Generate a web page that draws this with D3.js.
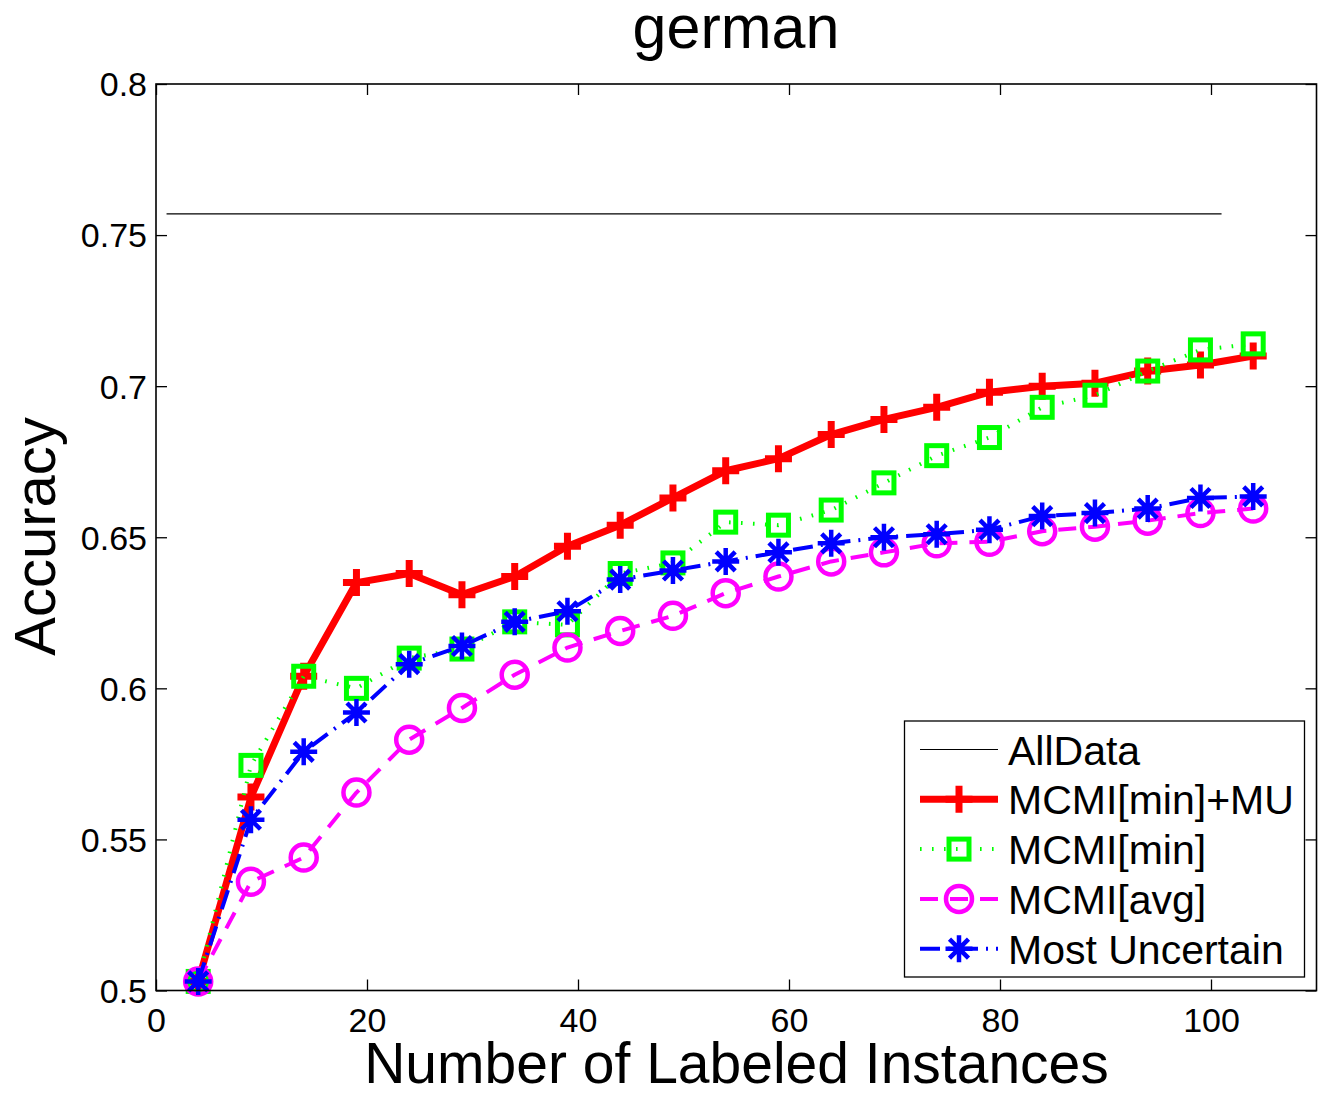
<!DOCTYPE html>
<html>
<head>
<meta charset="utf-8">
<script src="https://cdn.jsdelivr.net/npm/d3@7"></script>
<style>
  html, body { margin: 0; padding: 0; background: #fff; }
  svg { display: block; }
  text { font-family: "Liberation Sans", Arial, Helvetica, sans-serif; fill: #000; }
</style>
</head>
<body>
<svg id="chart" width="1330" height="1097"></svg>
<script>
// Number of labeled instances at each evaluation step
const labeledCounts = [4, 9, 14, 19, 24, 29, 34, 39, 44, 49, 54, 59, 64, 69, 74, 79, 84, 89, 94, 99, 104];

// Accuracy of each selection strategy
const mcmiMinMu = [0.503, 0.564, 0.604, 0.635, 0.638, 0.631, 0.637, 0.647, 0.654, 0.663, 0.672,
                   0.676, 0.684, 0.689, 0.693, 0.698, 0.700, 0.701, 0.705, 0.707, 0.710];
const mcmiMin   = [0.503, 0.5745, 0.604, 0.600, 0.610, 0.613, 0.622, 0.621, 0.638, 0.6415, 0.655,
                   0.654, 0.659, 0.668, 0.677, 0.683, 0.693, 0.697, 0.705, 0.712, 0.714];
const mcmiAvg   = [0.503, 0.536, 0.544, 0.5655, 0.583, 0.5935, 0.6045, 0.6135, 0.619, 0.624, 0.6315,
                   0.637, 0.642, 0.645, 0.648, 0.6485, 0.652, 0.6535, 0.6555, 0.658, 0.6595];
const mostUncertain = [0.503, 0.5565, 0.579, 0.592, 0.608, 0.614, 0.622, 0.6255, 0.636, 0.639, 0.642,
                       0.645, 0.648, 0.650, 0.651, 0.6525, 0.657, 0.658, 0.6595, 0.663, 0.6635];

// Accuracy when training on all the data, drawn across this range of x
const allDataAccuracy = 0.757;
const allDataRange = [1, 101];

// Axis ticks
const xTicks = [0, 20, 40, 60, 80, 100];
const yTicks = [0.5, 0.55, 0.6, 0.65, 0.7, 0.75, 0.8];

const seriesNames = ["MCMI[min]+MU", "MCMI[min]", "MCMI[avg]", "Most Uncertain"];
const titleText = "german";
const xLabel = "Number of Labeled Instances";
const yLabel = "Accuracy";

// ---- layout ----
const svg = d3.select("#chart");
const plotLeft = 156, plotRight = 1316.5, plotTop = 84, plotBottom = 990.5;
const x = d3.scaleLinear().domain([0, 110]).range([plotLeft, plotRight]);
const y = d3.scaleLinear().domain([0.5, 0.8]).range([plotBottom, plotTop]);

// Marker shapes, centred on the origin
const markers = {
  plus: g => g.append("path").attr("d", "M-13.5,0H13.5M0,-13.5V13.5"),
  square: g => g.append("rect").attr("x", -10).attr("y", -10).attr("width", 20).attr("height", 20),
  circle: g => g.append("circle").attr("r", 13),
  star: g => g.append("path").attr("d",
    "M-13.5,0H13.5M0,-13.5V13.5M-9.5,-9.5L9.5,9.5M-9.5,9.5L9.5,-9.5")
};

const series = [
  { name: seriesNames[0], values: mcmiMinMu, color: "#ff0000", width: 7, dash: null,
    marker: "plus", markerWidth: 7 },
  { name: seriesNames[1], values: mcmiMin, color: "#00ff00", width: 4, dash: "1.6,10.4",
    marker: "square", markerWidth: 5 },
  { name: seriesNames[2], values: mcmiAvg, color: "#ff00ff", width: 4, dash: "18,12",
    marker: "circle", markerWidth: 4.5 },
  { name: seriesNames[3], values: mostUncertain, color: "#0000ff", width: 4, dash: "20,8,2,8",
    marker: "star", markerWidth: 4.5 }
];

// ---- axes (inward ticks on all four sides) ----
const tickLen = 11;
const fmtY = d => String(+d.toFixed(2));

const gx = svg.append("g").attr("transform", `translate(0,${plotBottom})`)
  .call(d3.axisBottom(x).tickValues(xTicks).tickSizeInner(-tickLen).tickSizeOuter(0)
    .tickPadding(17).tickFormat(d3.format("d")));
const gxTop = svg.append("g").attr("transform", `translate(0,${plotTop})`)
  .call(d3.axisTop(x).tickValues(xTicks).tickSizeInner(-tickLen).tickSizeOuter(0).tickFormat(""));
const gy = svg.append("g").attr("transform", `translate(${plotLeft},0)`)
  .call(d3.axisLeft(y).tickValues(yTicks).tickSizeInner(-tickLen).tickSizeOuter(0)
    .tickPadding(9).tickFormat(fmtY));
const gyRight = svg.append("g").attr("transform", `translate(${plotRight},0)`)
  .call(d3.axisRight(y).tickValues(yTicks).tickSizeInner(-tickLen).tickSizeOuter(0).tickFormat(""));

[gx, gxTop, gy, gyRight].forEach(g => {
  g.select(".domain").remove();
  g.selectAll(".tick line").attr("stroke", "#000").attr("stroke-width", 1.3);
  g.selectAll(".tick text").attr("font-family", "Liberation Sans, Arial, sans-serif")
    .attr("font-size", 34).attr("fill", "#000");
});
gx.selectAll(".tick text").attr("dy", "0.71em");
gy.selectAll(".tick text").attr("dy", "0.35em");

// ---- reference line: all data ----
svg.append("line")
  .attr("x1", x(allDataRange[0])).attr("x2", x(allDataRange[1]))
  .attr("y1", y(allDataAccuracy)).attr("y2", y(allDataAccuracy))
  .attr("stroke", "#000").attr("stroke-width", 1.2);

// ---- series ----
const line = d3.line().x((d, i) => x(labeledCounts[i])).y(d => y(d));

series.forEach(s => {
  const g = svg.append("g");
  g.append("path")
    .datum(s.values)
    .attr("d", line)
    .attr("fill", "none")
    .attr("stroke", s.color)
    .attr("stroke-width", s.width)
    .attr("stroke-linejoin", "round")
    .attr("stroke-dasharray", s.dash);
  s.values.forEach((v, i) => {
    const m = g.append("g")
      .attr("transform", `translate(${x(labeledCounts[i])},${y(v)})`)
      .attr("fill", "none").attr("stroke", s.color).attr("stroke-width", s.markerWidth);
    markers[s.marker](m);
  });
});

// ---- plot box ----
svg.append("rect")
  .attr("x", plotLeft).attr("y", plotTop)
  .attr("width", plotRight - plotLeft).attr("height", plotBottom - plotTop)
  .attr("fill", "none").attr("stroke", "#000").attr("stroke-width", 1.6);

// ---- titles ----
svg.append("text").attr("x", 736).attr("y", 48)
  .attr("text-anchor", "middle").attr("font-size", 61).text(titleText);
svg.append("text").attr("x", 736.5).attr("y", 1083)
  .attr("text-anchor", "middle").attr("font-size", 57).text(xLabel);
svg.append("text").attr("transform", "translate(55,536.5) rotate(-90)")
  .attr("text-anchor", "middle").attr("font-size", 58).text(yLabel);

// ---- legend ----
const lg = svg.append("g");
lg.append("rect").attr("x", 904.5).attr("y", 721).attr("width", 400).attr("height", 256)
  .attr("fill", "#fff").attr("stroke", "#000").attr("stroke-width", 1.3);

const legendRows = [{ name: "AllData", color: "#000", width: 1.2, dash: null, marker: null }]
  .concat(series);
const rowY0 = 749.5, rowStep = 49.8, sampleX1 = 920, sampleX2 = 998, textX = 1008;

legendRows.forEach((s, i) => {
  const cy = rowY0 + i * rowStep;
  lg.append("line").attr("x1", sampleX1).attr("x2", sampleX2).attr("y1", cy).attr("y2", cy)
    .attr("stroke", s.color).attr("stroke-width", s.width).attr("stroke-dasharray", s.dash);
  if (s.marker) {
    const m = lg.append("g").attr("transform", `translate(${(sampleX1 + sampleX2) / 2},${cy})`)
      .attr("fill", "none").attr("stroke", s.color).attr("stroke-width", s.markerWidth);
    markers[s.marker](m);
  }
  lg.append("text").attr("x", textX).attr("y", cy + 15).attr("font-size", 41).text(s.name);
});
</script>
</body>
</html>
